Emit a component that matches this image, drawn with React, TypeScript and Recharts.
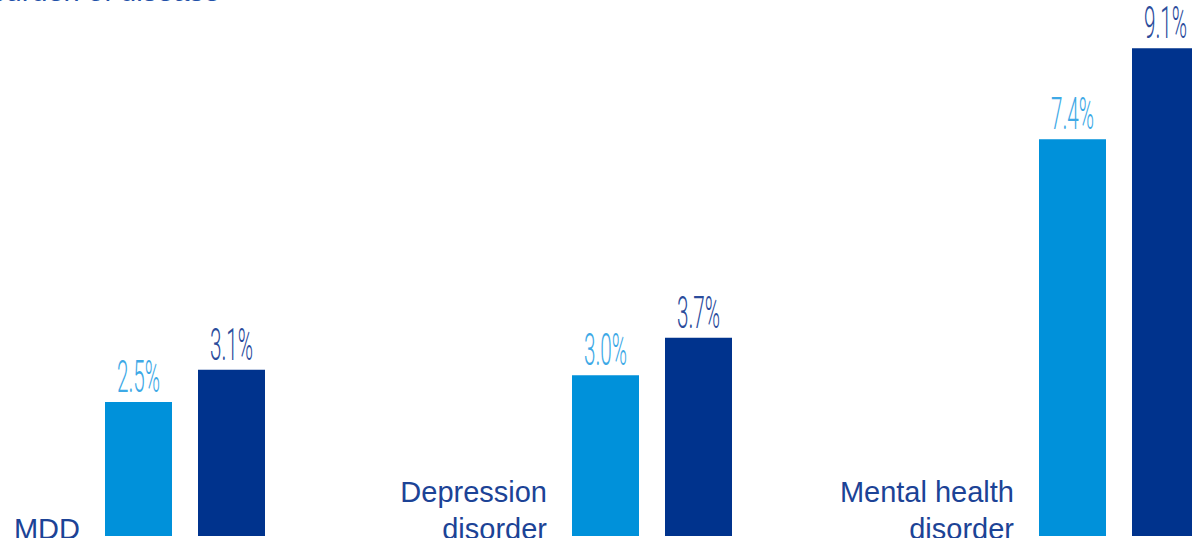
import React from 'react';
import { BarChart, Bar, XAxis, YAxis, LabelList } from 'recharts';

// categories and values
const categories = ['MDD', 'Depression disorder', 'Mental health disorder'];
const categoryLines = [['MDD'], ['Depression', 'disorder'], ['Mental health', 'disorder']];
const lightValues = [2.5, 3.0, 7.4];
const darkValues = [3.1, 3.7, 9.1];

const data = categories.map((name, i) => ({
  name,
  lines: categoryLines[i],
  light: lightValues[i],
  dark: darkValues[i],
}));

const LIGHT = '#0091da';
const DARK = '#00338d';
const TEXT = '#1c4396';

function makeValueLabel(color: string) {
  return function ValueLabel(props: any) {
    const { x, y, width, value } = props;
    const cx = Number(x) + Number(width) / 2;
    return (
      <text
        x={cx}
        y={Number(y) - 10}
        textAnchor="middle"
        style={{ fill: color }}
        fontSize={44}
        fontFamily="Roboto, Inter, sans-serif"
        fontWeight={300}
        transform={`translate(${cx} 0) scale(0.47 1) translate(${-cx} 0)`}
      >
        {`${Number(value).toFixed(1)}%`}
      </text>
    );
  };
}

const LightLabel = makeValueLabel('#3ea9e6');
const DarkLabel = makeValueLabel('#2b4c9c');

function CategoryLabel(props: any) {
  const { x, y, height, index } = props;
  const lines: string[] = data[index].lines;
  const bottom = Number(y) + Number(height);
  const right = Number(x) - 25;
  return (
    <text
      textAnchor="end"
      style={{ fill: TEXT }}
      fontSize={29}
      fontFamily="'Liberation Sans', Arial, sans-serif"
    >
      {lines.map((l, i) => (
        <tspan key={i} x={right} y={bottom + 3 - (lines.length - 1 - i) * 37}>
          {l}
        </tspan>
      ))}
    </text>
  );
}

export default function App() {
  return (
    <div style={{ position: 'relative', width: 1192, height: 538, overflow: 'hidden', background: '#fff' }}>
      <style>{'body{margin:0;overflow:hidden}'}</style>
      <div
        style={{
          position: 'absolute',
          right: 1192 - 220,
          top: -24,
          fontFamily: "'Liberation Sans', Arial, sans-serif",
          fontSize: 29,
          color: '#2250a8',
          whiteSpace: 'nowrap',
          lineHeight: '30px',
        }}
      >
        % burden of disease
      </div>
      <div style={{ position: 'absolute', left: -49.5, top: 0 }}>
        <BarChart
          width={1401}
          height={538}
          data={data}
          margin={{ top: 0, right: 0, bottom: 2, left: 0 }}
          barSize={67}
          barGap={26}
        >
          <XAxis dataKey="name" hide />
          <YAxis hide domain={[0, 10]} />
          <Bar dataKey="light" fill={LIGHT} isAnimationActive={false}>
            <LabelList dataKey="light" content={<LightLabel />} />
            <LabelList dataKey="name" content={<CategoryLabel />} />
          </Bar>
          <Bar dataKey="dark" fill={DARK} isAnimationActive={false}>
            <LabelList dataKey="dark" content={<DarkLabel />} />
          </Bar>
        </BarChart>
      </div>
    </div>
  );
}
